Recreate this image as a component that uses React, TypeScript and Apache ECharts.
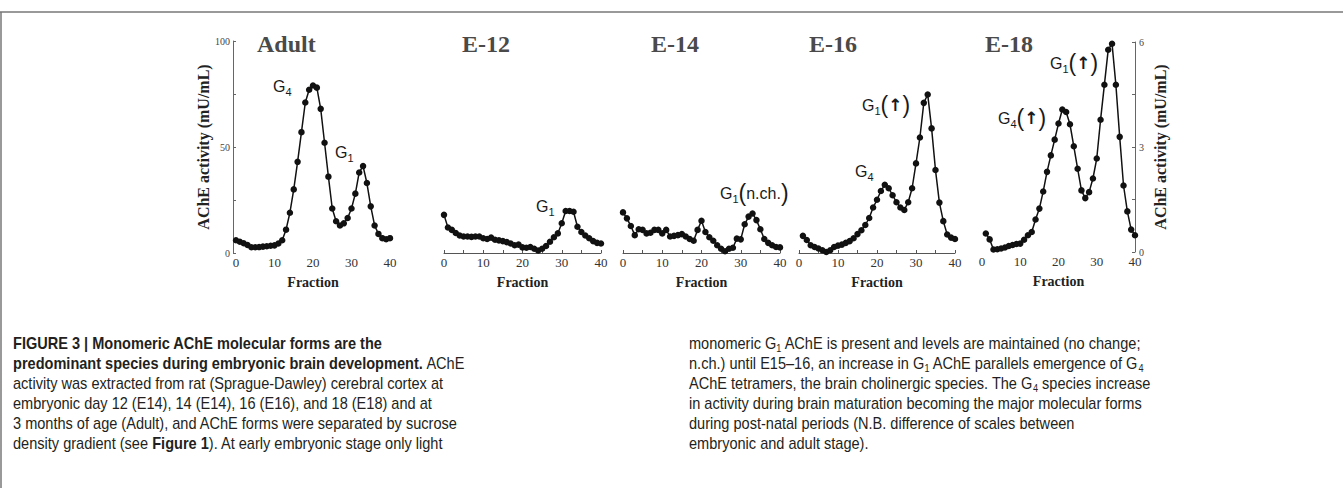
import React, { useEffect, useRef } from "react";
import * as echarts from "echarts";

// ---------- data ----------
const xTickLabels = [0, 10, 20, 30, 40];

const adultFraction = [0,1,2,3,4,5,6,7,8,9,10,11,12,13,14,15,16,17,18,19,20,21,22,23,24,25,26,27,28,29,30,31,32,33,34,35,36,37,38,39,40];
const adultActivity = [6,5.3,4.6,3.8,2.7,2.7,2.8,3,3.2,3.4,3.6,4.5,6,11,19,30,43,57,71,77,79,78,68,52,36,21,15,13,14,16.5,21,28,38,41,33,22,13,9,7,6.5,7];

const e12Fraction = [0,1,2,3,4,5,6,7,8,9,10,11,12,13,14,15,16,17,18,19,20,21,22,23,24,25,26,27,28,29,30,31,32,33,34,35,36,37,38,39,40];
const e12Activity = [1.09,0.73,0.66,0.57,0.5,0.47,0.47,0.46,0.47,0.47,0.42,0.4,0.44,0.38,0.36,0.34,0.31,0.27,0.22,0.24,0.16,0.15,0.17,0.12,0.07,0.12,0.2,0.32,0.45,0.56,0.85,1.2,1.2,1.18,0.75,0.6,0.5,0.42,0.34,0.29,0.27];

const e14Fraction = [0,1,2,3,4,5,6,7,8,9,10,11,12,13,14,15,16,17,18,19,20,21,22,23,24,25,26,27,28,29,30,31,32,33,34,35,36,37,38,39,40];
const e14Activity = [1.16,0.99,0.77,0.51,0.68,0.66,0.56,0.58,0.66,0.66,0.56,0.66,0.47,0.49,0.51,0.54,0.47,0.4,0.35,0.66,0.92,0.6,0.45,0.35,0.22,0.12,0.05,0.12,0.15,0.41,0.39,0.82,1.04,1.13,0.94,0.68,0.4,0.29,0.22,0.17,0.16];

const e16Fraction = [1,2,3,4,5,6,7,8,9,10,11,12,13,14,15,16,17,18,19,20,21,22,23,24,25,26,27,28,29,30,31,32,33,34,35,36,37,38,39,40];
const e16Activity = [0.49,0.37,0.22,0.17,0.13,0.08,0.03,0.08,0.17,0.21,0.24,0.29,0.34,0.42,0.54,0.65,0.8,1.0,1.3,1.52,1.77,1.95,1.85,1.65,1.45,1.3,1.23,1.45,1.85,2.56,3.3,4.29,4.53,3.56,2.37,1.44,0.91,0.53,0.44,0.4];

const e18Fraction = [1,2,3,4,5,6,7,8,9,10,11,12,13,14,15,16,17,18,19,20,21,22,23,24,25,26,27,28,29,30,31,32,33,34,35,36,37,38,39,40];
const e18Activity = [0.53,0.36,0.07,0.08,0.1,0.13,0.17,0.2,0.23,0.24,0.35,0.48,0.57,0.93,1.24,1.73,2.29,2.76,3.21,3.67,4.07,4.0,3.65,3.02,2.38,1.76,1.54,1.71,2.1,2.67,3.78,4.78,5.78,5.95,4.78,3.29,1.9,1.16,0.64,0.48];

const panelTitles = ["Adult", "E-12", "E-14", "E-16", "E-18"];
const yAxisTitle = "AChE activity (mU/mL)";
const xAxisTitle = "Fraction";

const captionLeft = [
  "{b|FIGURE 3 | Monomeric AChE molecular forms are the}",
  "{b|predominant species during embryonic brain development.} AChE",
  "activity was extracted from rat (Sprague-Dawley) cerebral cortex at",
  "embryonic day 12 (E14), 14 (E14), 16 (E16), and 18 (E18) and at",
  "3 months of age (Adult), and AChE forms were separated by sucrose",
  "density gradient (see {b|Figure 1}). At early embryonic stage only light",
];
const captionRight = [
  "monomeric G{s|1} AChE is present and levels are maintained (no change;",
  "n.ch.) until E15\u201316, an increase in G{s|1} AChE parallels emergence of G{s|4}",
  "AChE tetramers, the brain cholinergic species. The G{s|4} species increase",
  "in activity during brain maturation becoming the major molecular forms",
  "during post-natal periods (N.B. difference of scales between",
  "embryonic and adult stage).",
];

const peakLabels = [
  { text: "{g|G}{s|4}", x: 273, y: 86 },
  { text: "{g|G}{s|1}", x: 335, y: 152 },
  { text: "{g|G}{s|1}", x: 536, y: 206 },
  { text: "{g|G}{s|1}{p|(}{g|n.ch.}{p|)}", x: 720, y: 193 },
  { text: "{g|G}{s|1}{p|(}{a|\u2191}{p|)}", x: 862, y: 105 },
  { text: "{g|G}{s|4}", x: 855, y: 171 },
  { text: "{g|G}{s|1}{p|(}{a|\u2191}{p|)}", x: 1050, y: 63 },
  { text: "{g|G}{s|4}{p|(}{a|\u2191}{p|)}", x: 998, y: 118 },
];

const SERIF = "'Liberation Serif', 'Times New Roman', serif";
const SANS = "'Liberation Sans', Arial, sans-serif";

export default function App() {
  const ref = useRef<HTMLDivElement>(null);

  useEffect(() => {
    if (!ref.current) return;
    const chart = echarts.init(ref.current, undefined, { renderer: "svg" });

    const grids = [
      { left: 236, top: 41, width: 154, height: 212 },
      { left: 444, top: 43, width: 157, height: 210 },
      { left: 623, top: 43, width: 157, height: 210 },
      { left: 799, top: 43, width: 156, height: 210 },
      { left: 982, top: 42, width: 153, height: 210 },
    ];

    const showAxisLine = [false, true, true, true, false];
    const tickLabelFormatter = (v: number) => (xTickLabels.indexOf(v) >= 0 ? String(v) : "");

    const xAxes = grids.map((_, i) => ({
      type: "value",
      gridIndex: i,
      min: 0,
      max: 40,
      interval: 5,
      axisLine: { show: showAxisLine[i], onZero: false, lineStyle: { color: "#555", width: 1 } },
      axisTick: { show: showAxisLine[i], inside: true, length: 3, lineStyle: { color: "#555" } },
      axisLabel: {
        formatter: tickLabelFormatter,
        fontFamily: SERIF,
        fontSize: 13,
        color: "#333",
        margin: 3,
      },
      splitLine: { show: false },
      name: xAxisTitle,
      nameLocation: "middle",
      nameGap: 22,
      nameTextStyle: { fontFamily: SERIF, fontWeight: "bold", fontSize: 14, color: "#222" },
    }));

    const yAxes: any[] = [
      {
        type: "value",
        gridIndex: 0,
        min: 0,
        max: 100,
        interval: 25,
        offset: 3,
        axisLine: { show: true, onZero: false, lineStyle: { color: "#666", width: 1 } },
        axisTick: { show: true, inside: true, length: 3, lineStyle: { color: "#666" } },
        axisLabel: {
          formatter: (v: number) => (v % 50 === 0 ? String(v) : ""),
          fontFamily: SERIF,
          fontSize: 10,
          color: "#444",
          margin: 3,
        },
        splitLine: { show: false },
        name: yAxisTitle,
        nameLocation: "middle",
        nameGap: 20,
        nameRotate: 90,
        nameTextStyle: { fontFamily: SERIF, fontWeight: "bold", fontSize: 16, color: "#222" },
      },
      { type: "value", gridIndex: 1, min: 0, max: 6, show: false },
      { type: "value", gridIndex: 2, min: 0, max: 6, show: false },
      { type: "value", gridIndex: 3, min: 0, max: 6, show: false },
      {
        type: "value",
        gridIndex: 4,
        min: 0,
        max: 6,
        interval: 1.5,
        position: "right",
        axisLine: { show: true, onZero: false, lineStyle: { color: "#666", width: 1 } },
        axisTick: { show: true, inside: true, length: 3, lineStyle: { color: "#666" } },
        axisLabel: {
          formatter: (v: number) => (v % 3 === 0 ? String(v) : ""),
          fontFamily: SERIF,
          fontSize: 10,
          color: "#444",
          margin: 4,
        },
        splitLine: { show: false },
        name: yAxisTitle,
        nameLocation: "middle",
        nameGap: 17,
        nameRotate: 90,
        nameTextStyle: { fontFamily: SERIF, fontWeight: "bold", fontSize: 16, color: "#222" },
      },
    ];

    const seriesData = [
      [adultFraction, adultActivity],
      [e12Fraction, e12Activity],
      [e14Fraction, e14Activity],
      [e16Fraction, e16Activity],
      [e18Fraction, e18Activity],
    ];

    const series = seriesData.map(([fr, val], i) => ({
      type: "line",
      xAxisIndex: i,
      yAxisIndex: i,
      data: fr.map((f, k) => [f, val[k]]),
      symbol: "circle",
      symbolSize: 6.5,
      showSymbol: true,
      itemStyle: { color: "#111" },
      lineStyle: { color: "#111", width: 1.5 },
      z: 3,
    }));

    const titleX = [257, 462, 651, 809, 985];
    const graphics: any[] = [];

    // frame lines
    graphics.push({
      type: "line",
      shape: { x1: 0, y1: 12, x2: 1343, y2: 12 },
      style: { stroke: "#777", lineWidth: 1.5 },
    });
    graphics.push({
      type: "line",
      shape: { x1: 1, y1: 12, x2: 1, y2: 488 },
      style: { stroke: "#777", lineWidth: 1.5 },
    });

    panelTitles.forEach((t, i) => {
      graphics.push({
        type: "text",
        x: titleX[i],
        y: 44,
        style: {
          text: t,
          fontFamily: SERIF,
          fontWeight: "bold",
          fontSize: 24,
          fill: "#4a4a4a",
          align: "left",
          verticalAlign: "middle",
        },
      });
    });

    const peakRich = {
      g: { fontFamily: SANS, fontSize: 16, lineHeight: 22, fill: "#1a1a1a" },
      s: { fontFamily: SANS, fontSize: 11, lineHeight: 12, verticalAlign: "bottom", fill: "#1a1a1a" },
      p: { fontFamily: SANS, fontSize: 23, lineHeight: 22, fill: "#1a1a1a" },
      a: { fontFamily: "'DejaVu Sans', sans-serif", fontSize: 17, fontWeight: "bold", lineHeight: 22, fill: "#1a1a1a" },
    };
    peakLabels.forEach((p) => {
      graphics.push({
        type: "text",
        x: p.x,
        y: p.y,
        style: {
          text: p.text,
          rich: peakRich,
          align: "left",
          verticalAlign: "middle",
        },
      });
    });

    const capRich = {
      b: { fontFamily: SANS, fontWeight: "bold", fontSize: 16, lineHeight: 20, fill: "#231f20" },
      s: { fontFamily: SANS, fontSize: 10, lineHeight: 12, verticalAlign: "bottom", fill: "#231f20" },
    };
    const addCaption = (lines: string[], x: number) => {
      lines.forEach((ln, k) => {
        graphics.push({
          type: "text",
          x,
          y: 343 + k * 20,
          scaleX: 0.91,
          style: {
            text: ln,
            rich: capRich,
            fontFamily: SANS,
            fontSize: 16,
            lineHeight: 20,
            fill: "#231f20",
            align: "left",
            verticalAlign: "middle",
          },
        });
      });
    };
    addCaption(captionLeft, 13);
    addCaption(captionRight, 689);

    chart.setOption({
      animation: false,
      backgroundColor: "#ffffff",
      grid: grids,
      xAxis: xAxes,
      yAxis: yAxes,
      series,
      graphic: graphics,
    });

    return () => chart.dispose();
  }, []);

  return (
    <div
      ref={ref}
      style={{ position: "absolute", left: 0, top: 0, width: 1343, height: 488 }}
    />
  );
}
